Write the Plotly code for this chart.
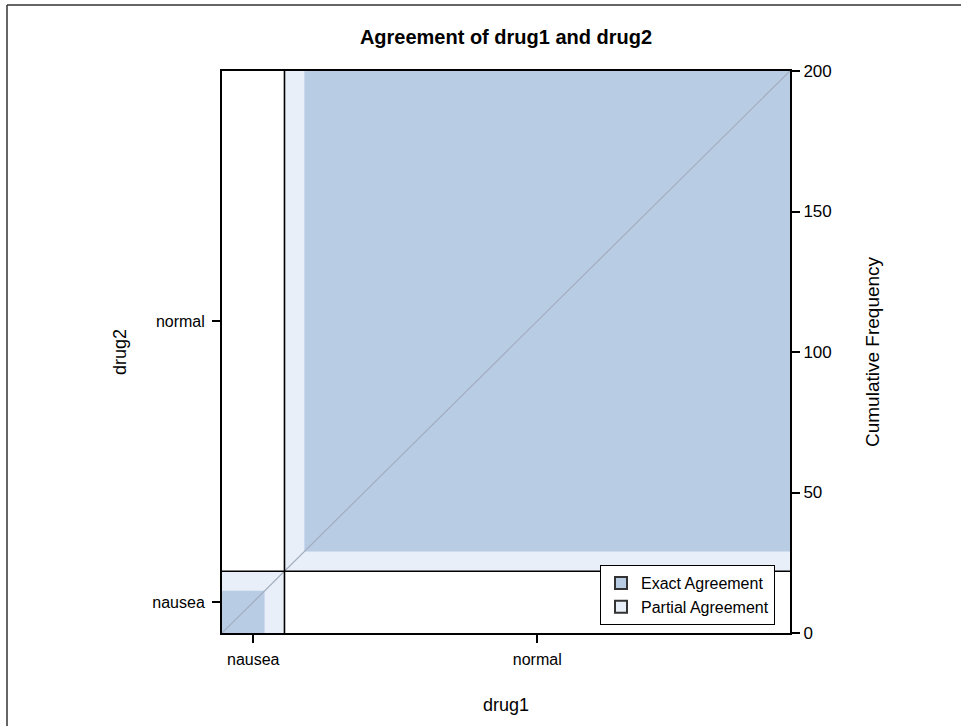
import plotly.graph_objects as go

# ---- data ----
categories = ["nausea", "normal"]
# counts[i][j]: drug1 = categories[i], drug2 = categories[j]
counts = [[15, 7],
          [7, 171]]
freq_ticks = [0, 50, 100, 150, 200]

EXACT = "#B8CCE4"
PARTIAL = "#E8EFF8"
FONT = "Liberation Sans, Arial, sans-serif"

n = len(categories)
total = sum(sum(r) for r in counts)
d1_tot = [sum(counts[i]) for i in range(n)]
d2_tot = [sum(counts[i][j] for i in range(n)) for j in range(n)]
x_start = [sum(d1_tot[:k]) for k in range(n)]
y_start = [sum(d2_tot[:k]) for k in range(n)]

fig = go.Figure()


def rect(x0, x1, y0, y1, color):
    fig.add_trace(go.Scatter(x=[x0, x1, x1, x0, x0], y=[y0, y0, y1, y1, y0],
                             mode="lines", fill="toself", fillcolor=color,
                             line=dict(width=0), hoverinfo="skip", showlegend=False))


for k in range(n):
    # partial agreement (adjacent cells)
    px0 = x_start[k] + sum(counts[k][j] for j in range(max(0, k - 1)))
    px1 = x_start[k] + sum(counts[k][j] for j in range(min(n, k + 2)))
    py0 = y_start[k] + sum(counts[i][k] for i in range(max(0, k - 1)))
    py1 = y_start[k] + sum(counts[i][k] for i in range(min(n, k + 2)))
    rect(px0, px1, py0, py1, PARTIAL)
    # exact agreement
    ex0 = x_start[k] + sum(counts[k][j] for j in range(k))
    ey0 = y_start[k] + sum(counts[i][k] for i in range(k))
    rect(ex0, ex0 + counts[k][k], ey0, ey0 + counts[k][k], EXACT)

# diagonal
fig.add_trace(go.Scatter(x=[0, total], y=[0, total], mode="lines",
                         line=dict(color="#A3ADBF", width=1.2), hoverinfo="skip",
                         showlegend=False))

# dividers
for k in range(1, n):
    fig.add_trace(go.Scatter(x=[x_start[k], x_start[k]], y=[0, total], mode="lines",
                             line=dict(color="black", width=1.6), showlegend=False, hoverinfo="skip"))
    fig.add_trace(go.Scatter(x=[0, total], y=[y_start[k], y_start[k]], mode="lines",
                             line=dict(color="black", width=1.6), showlegend=False, hoverinfo="skip"))

# legend entries
for name, col in [("Exact Agreement", EXACT), ("Partial Agreement", PARTIAL)]:
    fig.add_trace(go.Scatter(x=[None], y=[None], mode="markers", name=name,
                             marker=dict(symbol="square", size=11, color=col,
                                         line=dict(color="#333333", width=1))))

# right axis carrier
fig.add_trace(go.Scatter(x=[None], y=[None], yaxis="y2", showlegend=False))

x_mid = [x_start[k] + d1_tot[k] / 2 for k in range(n)]
y_mid = [y_start[k] + d2_tot[k] / 2 for k in range(n)]

L, R, T, B = 222, 790, 71, 633
PW, PH = R - L, B - T


def px(xp):
    return (xp - L) / PW


def py(yp):
    return (B - yp) / PH


fig.update_layout(
    width=961, height=726,
    margin=dict(l=L, r=961 - R, t=T, b=726 - B),
    paper_bgcolor="white", plot_bgcolor="white",
    font=dict(family=FONT, size=16, color="black"),
    title=dict(text="<b>Agreement of drug1 and drug2</b>", x=(L + R) / 2 / 961,
               xanchor="center", y=1 - 37 / 726, yanchor="middle",
               font=dict(size=20, family=FONT)),
    xaxis=dict(range=[0, total], tickvals=x_mid, ticktext=categories,
               showgrid=False, zeroline=False, showline=True, linecolor="black",
               linewidth=2, mirror=True, ticks="outside", ticklen=8, tickwidth=1.5,
               tickcolor="black", ticklabelstandoff=3),
    yaxis=dict(range=[0, total], tickvals=y_mid, ticktext=categories,
               showgrid=False, zeroline=False, showline=True, linecolor="black",
               linewidth=2, ticks="outside", ticklen=8, tickwidth=1.5,
               tickcolor="black", ticklabelstandoff=4),
    yaxis2=dict(range=[0, total], overlaying="y", side="right", tickvals=freq_ticks,
                showgrid=False, zeroline=False, showline=True, linecolor="black",
                linewidth=2, ticks="outside", ticklen=8, tickwidth=1.5, tickcolor="black",
                tickfont=dict(size=17)),
    legend=dict(x=px(775), y=py(625), xanchor="right", yanchor="bottom",
                bgcolor="white", bordercolor="black", borderwidth=1,
                font=dict(size=16), tracegroupgap=0, itemsizing="constant"),
    annotations=[
        dict(text="drug1", xref="paper", yref="paper", x=0.5, y=py(705),
             showarrow=False, font=dict(size=18), xanchor="center", yanchor="middle"),
        dict(text="drug2", xref="paper", yref="paper", x=px(120), y=py(352),
             showarrow=False, font=dict(size=18), textangle=-90,
             xanchor="center", yanchor="middle"),
        dict(text="Cumulative Frequency", xref="paper", yref="paper", x=px(872), y=py(352),
             showarrow=False, font=dict(size=19), textangle=-90,
             xanchor="center", yanchor="middle"),
    ],
    shapes=[
        dict(type="line", xref="paper", yref="paper", x0=px(7), x1=px(961),
             y0=py(5), y1=py(5), line=dict(color="#333333", width=1.5)),
        dict(type="line", xref="paper", yref="paper", x0=px(7), x1=px(7),
             y0=py(5), y1=py(726), line=dict(color="#333333", width=1.5)),
    ],
)

fig.write_html("out.html", config={"displayModeBar": False},
               post_script="document.body.style.margin='0px';")
